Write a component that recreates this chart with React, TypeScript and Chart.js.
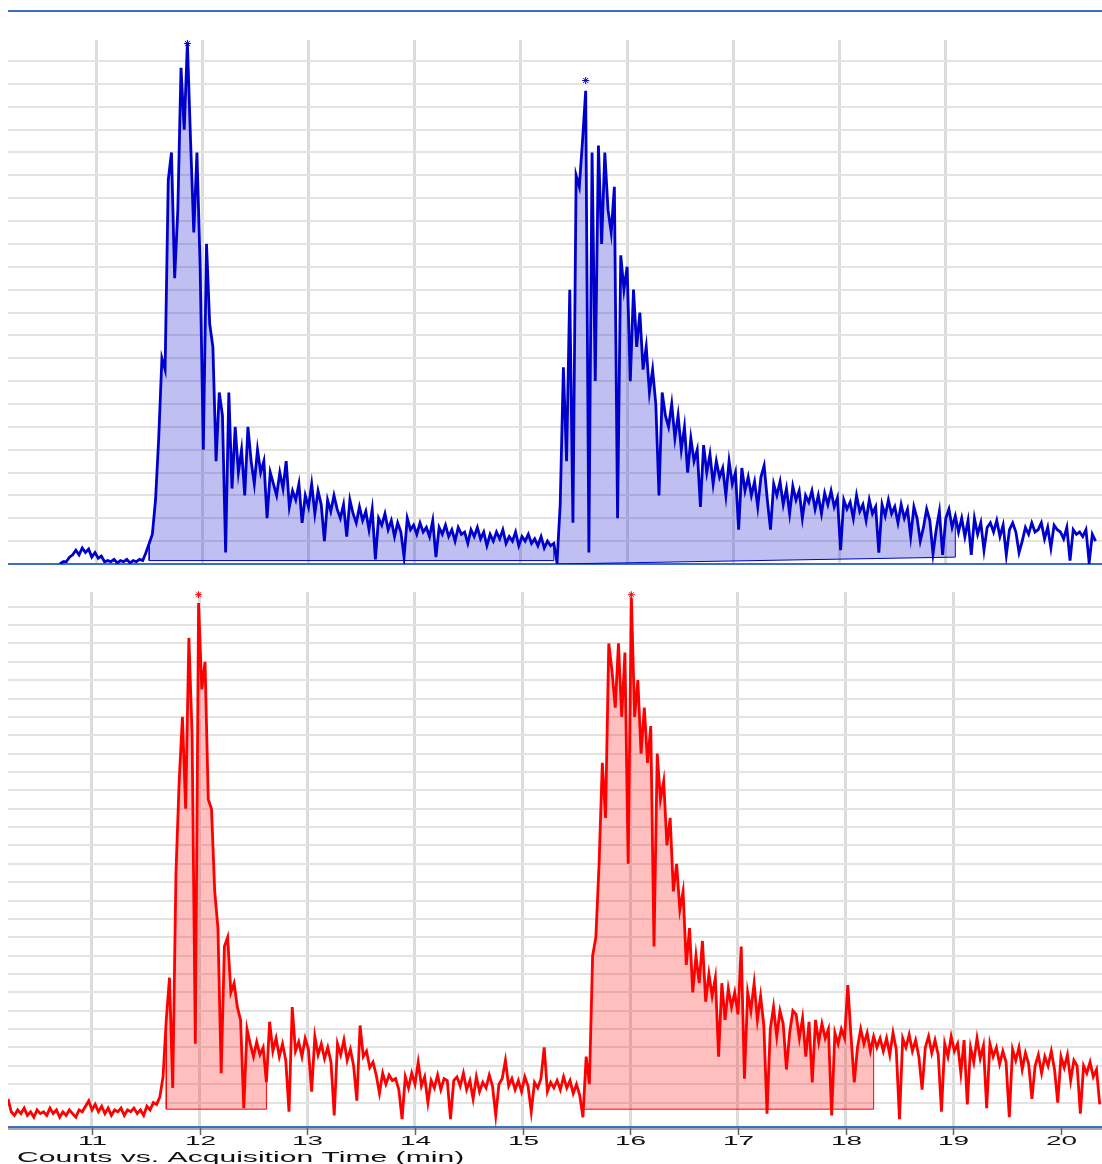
import React, { useEffect, useRef } from 'react';
import { Chart, registerables } from 'chart.js';

Chart.register(...registerables);

const FONT = '"Liberation Sans", Arial, Helvetica, sans-serif';

// Sampling of both traces (min)
const SAMPLE_STEP = 0.03;
const TOP_START = 10.66;
const BOTTOM_START = 10.22;

// Upper trace (blue), counts in grid units
const TOP_COUNTS = [
  0.0, 0.1, 0.1, 0.3, 0.4, 0.6, 0.4, 0.7, 0.5, 0.65,
  0.3, 0.5, 0.25, 0.35, 0.1, 0.15, 0.1, 0.2, 0.05, 0.15,
  0.1, 0.2, 0.05, 0.15, 0.1, 0.2, 0.15, 0.5, 0.9, 1.3,
  2.8, 5.5, 9.0, 8.5, 16.8, 18.0, 12.5, 15.5, 21.7, 19.0,
  22.8, 18.5, 14.5, 18.0, 13.0, 5.0, 14.0, 10.5, 9.5, 4.5,
  7.5, 6.5, 0.5, 7.5, 3.3, 6.0, 4.0, 5.0, 3.0, 6.0,
  4.5, 3.5, 5.0, 4.0, 4.5, 2.0, 4.0, 3.5, 3.0, 4.0,
  3.3, 4.5, 2.5, 3.2, 2.8, 3.5, 1.8, 3.0, 2.5, 3.5,
  2.2, 3.2, 2.6, 1.0, 2.8, 2.3, 3.0, 2.4, 2.0, 2.6,
  1.2, 2.8, 2.2, 1.8, 2.5, 1.9, 2.3, 1.5, 2.4, 0.2,
  2.0, 1.7, 2.2, 1.5, 1.9, 1.2, 1.8, 1.4, 0.3, 2.0,
  1.5, 1.7, 1.3, 1.8, 1.4, 1.6, 1.2, 1.9, 0.3, 1.6,
  1.3, 1.7, 1.2, 1.5, 1.0, 1.6, 1.3, 1.4, 0.9, 1.5,
  1.2, 1.6, 1.1, 1.4, 0.8, 1.3, 1.0, 1.4, 1.1, 1.5,
  0.9, 1.2, 1.0, 1.4, 0.8, 1.2, 1.0, 1.3, 0.9, 1.1,
  0.8, 1.2, 0.7, 1.0, 0.8, 0.9, 0.05, 2.6, 8.6, 4.5,
  12.0, 1.8, 17.0, 16.5, 18.5, 20.7, 0.5, 18.0, 8.0, 18.3,
  14.0, 18.0, 15.5, 14.5, 16.5, 2.0, 13.5, 12.0, 13.0, 8.0,
  12.0, 9.5, 11.0, 8.5, 9.5, 7.5, 8.5, 7.0, 3.0, 7.5,
  6.5, 6.0, 7.0, 5.5, 6.5, 5.0, 6.0, 4.0, 5.5, 4.5,
  5.0, 2.5, 5.2, 4.0, 4.8, 3.5, 4.5, 3.8, 4.2, 3.0,
  4.5, 3.5, 4.0, 1.5, 4.2, 3.2, 3.8, 3.0, 3.6, 2.5,
  3.8, 4.3, 2.8, 1.5, 3.5, 3.0, 3.6, 2.6, 3.3, 2.2,
  3.4, 2.8, 3.2, 2.0, 3.0, 2.7, 3.2, 2.4, 3.0, 2.2,
  3.1, 2.6, 3.2, 2.5, 2.9, 0.6, 2.8, 2.4, 2.7, 2.0,
  3.0, 2.3, 2.6, 1.9, 2.8, 2.2, 2.5, 0.5, 2.6, 2.1,
  2.8, 2.2, 2.5, 1.8, 2.6, 2.0, 2.4, 1.2, 2.5, 2.0,
  1.0, 1.6, 2.4, 1.9, 0.45, 1.5, 2.3, 0.4, 2.0, 2.4,
  1.6, 2.1, 1.4, 2.0, 1.2, 1.9, 0.4, 2.0, 1.3, 1.8,
  0.6, 1.6, 1.8, 1.4, 1.9, 1.2, 1.7, 0.4, 1.5, 1.8,
  1.4, 0.5, 1.0, 1.6, 1.3, 1.8, 1.4, 1.5, 1.8, 1.1,
  1.6, 0.7, 1.7, 1.5, 1.4, 1.1, 1.6, 0.15, 1.5, 1.3,
  1.4, 1.2, 1.5, 0.05, 1.3, 1.0,
];

// Lower trace (red), counts in grid units
const BOTTOM_COUNTS = [
  1.2, 0.5, 0.3, 0.6, 0.4, 0.7, 0.3, 0.5, 0.2, 0.6,
  0.4, 0.5, 0.3, 0.7, 0.4, 0.6, 0.2, 0.5, 0.3, 0.6,
  0.4, 0.2, 0.6, 0.5, 0.8, 1.1, 0.6, 0.9, 0.5, 0.8,
  0.4, 0.7, 0.3, 0.6, 0.5, 0.7, 0.3, 0.6, 0.5, 0.7,
  0.4, 0.6, 0.3, 0.8, 0.6, 1.0, 0.9, 1.3, 2.4, 5.5,
  7.8, 1.8, 13.5, 18.5, 22.0, 17.0, 26.3, 21.0, 4.2, 28.2,
  23.5, 25.0, 17.5, 17.0, 12.5, 10.5, 2.6, 9.5, 10.0, 7.0,
  7.5, 6.2, 5.5, 0.7, 5.0, 4.2, 3.5, 4.3, 3.6, 4.0,
  2.1, 5.4, 3.8, 4.5, 3.5, 4.2, 3.3, 0.5, 6.2, 3.8,
  4.3, 3.5, 4.5, 3.9, 1.6, 4.6, 3.6, 4.2, 3.4, 4.0,
  3.2, 0.3, 4.2, 3.6, 4.4, 3.3, 3.9, 3.0, 1.1, 5.2,
  3.5, 3.8, 2.9, 3.2, 2.5, 1.5, 2.6, 2.0, 2.5, 2.2,
  2.3, 1.7, 0.1, 2.4, 1.8, 2.6, 2.0, 3.2, 1.9, 2.4,
  1.0, 2.2, 1.8, 2.5, 1.7, 2.3, 2.2, 0.1, 2.2, 2.4,
  1.9, 2.6, 1.7, 2.2, 1.2, 2.4, 1.6, 2.1, 1.8, 2.5,
  1.9, 0.3, 2.0, 2.3, 3.3, 1.9, 2.3, 1.7, 2.2, 1.6,
  2.4, 1.9, 0.5, 2.1, 1.8, 2.3, 4.0, 1.6, 2.1, 1.8,
  2.2, 1.7, 2.4, 1.8, 2.2, 1.5, 2.0, 1.4, 0.2, 3.5,
  2.0, 9.0, 10.0, 14.0, 19.5, 16.5, 26.0, 24.5, 22.5, 26.0,
  22.0, 25.5, 14.0, 28.5, 22.0, 24.0, 20.0, 22.5, 19.5, 21.5,
  9.5, 20.0, 17.5, 18.5, 15.0, 16.5, 12.5, 14.0, 11.5, 12.5,
  8.5, 10.5, 7.0, 9.0, 7.5, 9.8, 6.5, 8.0, 6.8, 7.8,
  3.5, 7.5, 5.5, 7.2, 6.2, 7.0, 5.8, 9.5, 2.3, 7.0,
  6.0, 7.5, 5.5, 6.8, 5.2, 0.4, 5.0, 6.2, 4.6, 6.0,
  5.3, 2.8, 4.8, 6.0, 5.8, 4.5, 5.6, 3.5, 5.4, 2.1,
  5.5, 4.3, 5.3, 4.5, 5.0, 0.3, 4.8, 4.2, 5.0, 4.5,
  7.4, 4.6, 2.1, 4.0, 5.0, 4.2, 4.8, 3.8, 4.6, 4.0,
  4.5, 3.8, 4.5, 3.6, 4.8, 3.9, 0.1, 4.5, 4.0, 4.7,
  3.8, 4.4, 3.5, 1.7, 4.0, 4.6, 3.7, 4.4, 3.6, 0.5,
  4.2, 3.5, 4.6, 3.8, 4.2, 2.6, 4.4, 0.9, 4.0, 3.2,
  4.5, 3.4, 4.1, 0.7, 4.2, 3.5, 4.0, 3.1, 3.8, 3.2,
  0.2, 3.9, 3.3, 4.0, 2.8, 3.7, 3.1, 1.2, 3.0, 3.6,
  2.6, 3.5, 3.0, 3.8, 2.8, 1.0, 3.5, 2.9, 3.6, 2.2,
  3.3, 3.0, 0.4, 3.0, 2.6, 3.2, 2.4, 2.8, 0.9,
];

// Integrated peak windows (min) and their baselines (start, end)
const TOP_WINDOWS = [[11.49, 15.32], [15.34, 19.1]];
const TOP_BASELINES = [[0.15, 0.15], [0.0, 0.3]];
const BOTTOM_WINDOWS = [[11.68, 12.62], [15.56, 18.26]];
const BOTTOM_BASELINES = [[0.64, 0.64], [0.64, 0.64]];

const X_TICKS = [11, 12, 13, 14, 15, 16, 17, 18, 19, 20];
const X_TICK_LABELS = ['11', '12', '13', '14', '15', '16', '17', '18', '19', '20'];
const AXIS_TITLE = 'Counts vs. Acquisition Time (min)';

const TOP_X_RANGE = [10.171, 20.471];
const BOTTOM_X_RANGE = [10.22, 20.381];
const TOP_Y_RANGE = [0, 22.92];
const BOTTOM_Y_RANGE = [-0.33, 28.8];

const BLUE = '#0000cc';
const BLUE_FILL = 'rgba(0, 0, 200, 0.25)';
const RED = '#ff0000';
const RED_FILL = 'rgba(255, 0, 0, 0.25)';
const AXIS_BLUE = '#3b6fc7';
const TEXT_STRETCH = 2.15;

const toPoints = (start: number, counts: number[]) =>
  counts.map((y, i) => ({ x: +(start + i * SAMPLE_STEP).toFixed(2), y }));

const keepIntegers = (scale: any) => {
  scale.ticks = scale.ticks.filter((t: any) => Math.abs(t.value - Math.round(t.value)) < 1e-6);
};

function buildConfig(
  points: { x: number; y: number }[],
  windows: number[][],
  baselines: number[][],
  color: string,
  fillColor: string,
  xRange: number[],
  yRange: number[],
  padding: { top: number; bottom: number },
  extraPlugins: any[],
) {
  const datasets: any[] = [
    {
      data: points,
      borderColor: color,
      borderWidth: 2.8,
      pointRadius: 0,
      fill: false,
      order: 0,
      tension: 0,
    },
  ];
  const stars: { x: number; y: number }[] = [];

  windows.forEach(([a, b], k) => {
    const slice = points.filter((p) => p.x >= a - 1e-9 && p.x <= b + 1e-9);
    const first = slice[0];
    const last = slice[slice.length - 1];
    const [b0, b1] = baselines[k];
    const baseIndex = datasets.length;
    // baseline used as the fill target
    datasets.push({
      data: [{ x: first.x, y: b0 }, { x: last.x, y: b1 }],
      borderColor: 'rgba(0,0,0,0)',
      borderWidth: 0,
      pointRadius: 0,
      fill: false,
      order: 4,
    });
    // shaded peak area
    datasets.push({
      data: slice,
      borderColor: 'rgba(0,0,0,0)',
      borderWidth: 0,
      pointRadius: 0,
      backgroundColor: fillColor,
      fill: { target: baseIndex, above: fillColor, below: fillColor },
      order: 3,
    });
    // outline of the integration window
    datasets.push({
      data: [
        { x: first.x, y: first.y },
        { x: first.x, y: b0 },
        { x: last.x, y: b1 },
        { x: last.x, y: last.y },
      ],
      borderColor: color,
      borderWidth: 1,
      pointRadius: 0,
      fill: false,
      order: 2,
    });
    const apex = slice.reduce((m, p) => (p.y > m.y ? p : m), slice[0]);
    stars.push({ x: apex.x, y: Math.min(apex.y + 0.45, yRange[1] - 0.15) });
  });

  datasets.push({
    data: stars,
    showLine: false,
    pointStyle: 'star',
    pointRadius: 3.5,
    borderColor: color,
    backgroundColor: color,
    borderWidth: 1,
    order: -1,
    clip: false,
  });

  return {
    type: 'line',
    data: { datasets },
    plugins: extraPlugins,
    options: {
      responsive: false,
      animation: false,
      devicePixelRatio: 1,
      events: [],
      layout: { padding: { top: padding.top, bottom: padding.bottom, left: 0, right: 0 }, autoPadding: false },
      plugins: { legend: { display: false }, tooltip: { enabled: false }, title: { display: false } },
      scales: {
        x: {
          type: 'linear',
          min: xRange[0],
          max: xRange[1],
          afterBuildTicks: keepIntegers,
          ticks: { display: false, stepSize: 1 },
          grid: { color: '#dcdcdc', lineWidth: 3, drawTicks: false, tickLength: 0 },
          border: { display: true, color: AXIS_BLUE, width: 2 },
        },
        y: {
          type: 'linear',
          min: yRange[0],
          max: yRange[1],
          afterBuildTicks: keepIntegers,
          ticks: { display: false, stepSize: 1 },
          grid: { color: '#e3e3e3', lineWidth: 2, drawTicks: false, tickLength: 0 },
          border: { display: false },
        },
      },
    },
  };
}

// Tick marks, tick labels and axis title under the lower panel
const axisDecor = {
  id: 'axisDecor',
  afterDraw(chart: any) {
    const { ctx, chartArea, scales } = chart;
    const xs = scales.x;
    ctx.save();
    ctx.fillStyle = '#a8a8a8';
    ctx.fillRect(chartArea.left, chartArea.bottom + 1, chartArea.right - chartArea.left, 2);
    ctx.strokeStyle = '#666666';
    ctx.lineWidth = 1.5;
    ctx.fillStyle = '#111111';
    X_TICKS.forEach((v, k) => {
      const x = Math.round(xs.getPixelForValue(v)) + 0.5;
      ctx.beginPath();
      ctx.moveTo(x, chartArea.bottom + 1);
      ctx.lineTo(x, chartArea.bottom + 8);
      ctx.stroke();
      ctx.save();
      ctx.translate(x, chartArea.bottom + 18);
      ctx.scale(TEXT_STRETCH, 1);
      ctx.font = `13px ${FONT}`;
      ctx.textAlign = 'center';
      ctx.textBaseline = 'alphabetic';
      ctx.fillText(X_TICK_LABELS[k], 0, 0);
      ctx.restore();
    });
    ctx.save();
    ctx.translate(9, chartArea.bottom + 34.7);
    ctx.scale(TEXT_STRETCH, 1);
    ctx.font = `14px ${FONT}`;
    ctx.textAlign = 'left';
    ctx.textBaseline = 'alphabetic';
    ctx.fillText(AXIS_TITLE, 0, 0);
    ctx.restore();
    ctx.restore();
  },
};

export default function App() {
  const topRef = useRef<HTMLCanvasElement | null>(null);
  const bottomRef = useRef<HTMLCanvasElement | null>(null);

  useEffect(() => {
    const topChart = new Chart(
      topRef.current as HTMLCanvasElement,
      buildConfig(
        toPoints(TOP_START, TOP_COUNTS),
        TOP_WINDOWS,
        TOP_BASELINES,
        BLUE,
        BLUE_FILL,
        TOP_X_RANGE,
        TOP_Y_RANGE,
        { top: 10, bottom: 11 },
        [],
      ) as any,
    );
    const bottomChart = new Chart(
      bottomRef.current as HTMLCanvasElement,
      buildConfig(
        toPoints(BOTTOM_START, BOTTOM_COUNTS),
        BOTTOM_WINDOWS,
        BOTTOM_BASELINES,
        RED,
        RED_FILL,
        BOTTOM_X_RANGE,
        BOTTOM_Y_RANGE,
        { top: 12, bottom: 37 },
        [axisDecor],
      ) as any,
    );
    return () => {
      topChart.destroy();
      bottomChart.destroy();
    };
  }, []);

  return (
    <div
      style={{
        position: 'fixed',
        left: 0,
        top: 0,
        width: 1102,
        height: 1164,
        background: '#ffffff',
        overflow: 'hidden',
      }}
    >
      <div style={{ position: 'absolute', left: 8, top: 10, width: 1094, height: 2, background: AXIS_BLUE }} />
      <canvas ref={topRef} width={1094} height={545} style={{ position: 'absolute', left: 8, top: 30 }} />
      <canvas ref={bottomRef} width={1094} height={584} style={{ position: 'absolute', left: 8, top: 580 }} />
    </div>
  );
}
